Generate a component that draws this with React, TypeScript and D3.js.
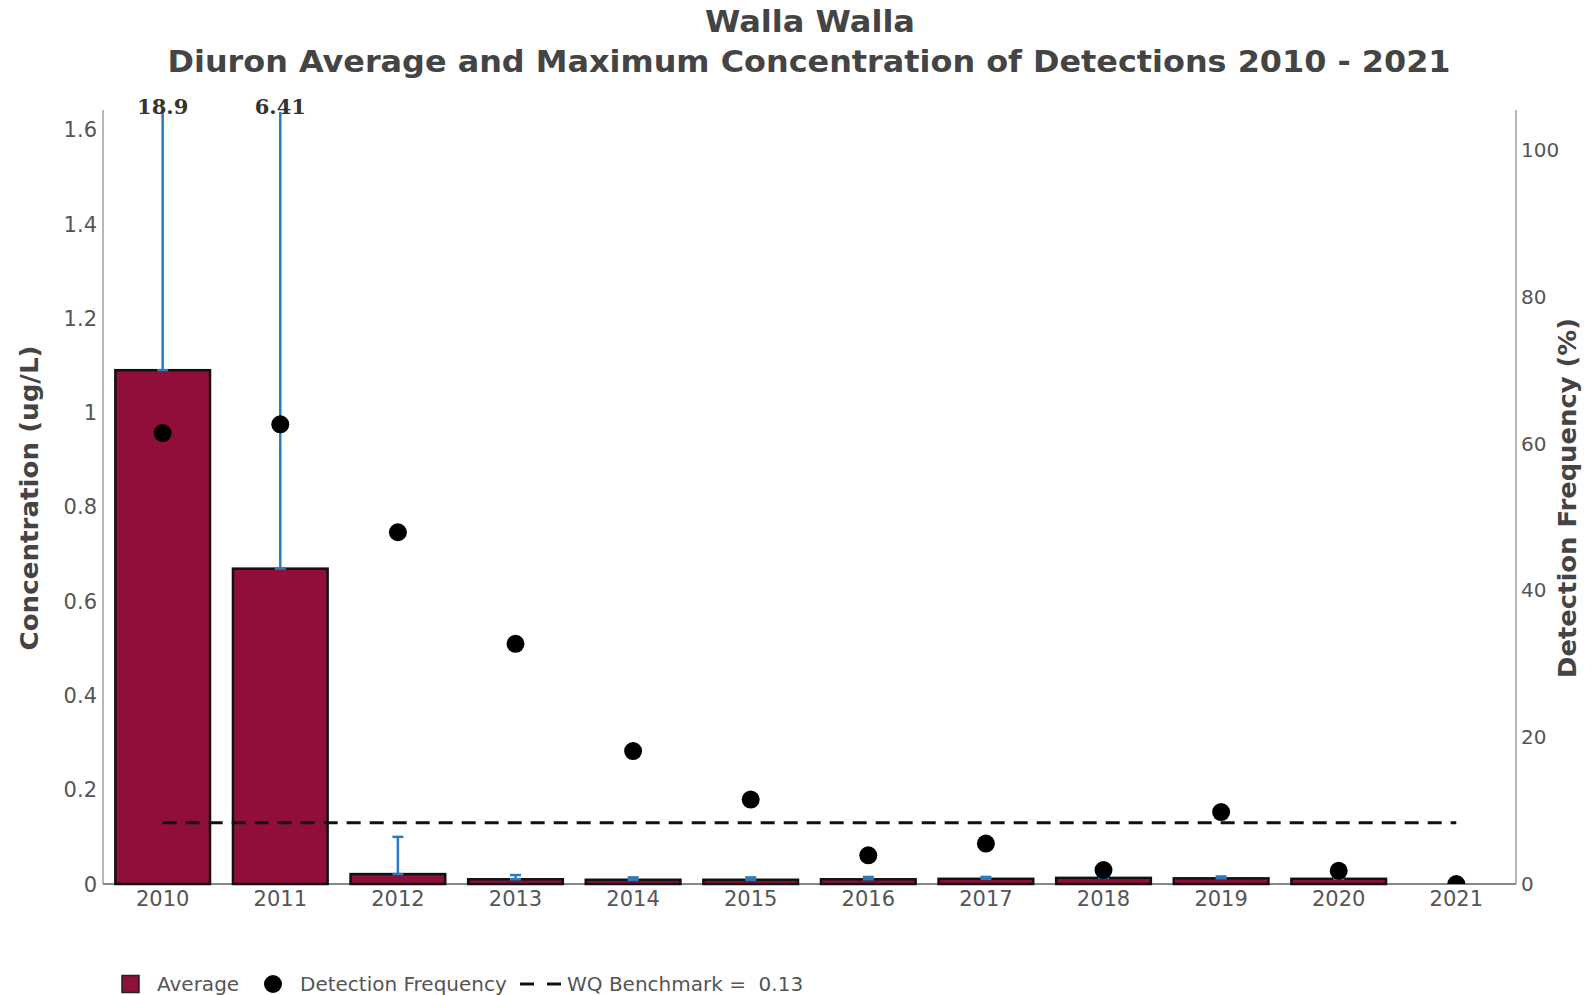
import React, { useEffect, useRef } from 'react';
import * as d3 from 'd3';

const years = ['2010', '2011', '2012', '2013', '2014', '2015', '2016', '2017', '2018', '2019', '2020', '2021'];
const averageConc = [1.09, 0.669, 0.021, 0.01, 0.009, 0.009, 0.01, 0.011, 0.013, 0.012, 0.011, 0];
const maximumConc = [18.9, 6.41, 0.1, 0.019, 0.014, 0.014, 0.015, 0.015, 0.015, 0.016, 0.013, 0];
const detectionFreq = [61.4, 62.6, 47.9, 32.7, 18.1, 11.5, 3.9, 5.5, 1.9, 9.8, 1.8, 0];
const leftTicks = [0, 0.2, 0.4, 0.6, 0.8, 1, 1.2, 1.4, 1.6];
const rightTicks = [0, 20, 40, 60, 80, 100];
const benchmark = 0.13;

const App = () => {
  const svgRef = useRef(null);

  useEffect(() => {
    document.body.style.margin = '0';
    const svg = d3.select(svgRef.current);
    svg.selectAll('*').remove();

    const width = 1595;
    const height = 995;
    const left = 103;
    const right = 1516;
    const top = 110;
    const bottom = 884;
    const barColor = '#8f0e3a';
    const errColor = '#2b7bba';
    const textColor = '#444';
    const sans = '"DejaVu Sans", Verdana, sans-serif';

    svg.attr('width', width).attr('height', height);

    const x = d3.scaleBand().domain(years).range([left, right]).paddingInner(0.195).paddingOuter(0.105);
    const y = d3.scaleLinear().domain([0, 1.642]).range([bottom, top]);
    const y2 = d3.scaleLinear().domain([0, 105.4]).range([bottom, top]);
    const cx = d => x(d) + x.bandwidth() / 2;

    const defs = svg.append('defs');
    defs.append('clipPath').attr('id', 'errClip')
      .append('rect').attr('x', left).attr('y', 112).attr('width', right - left).attr('height', bottom - 112);
    defs.append('clipPath').attr('id', 'dotClip')
      .append('rect').attr('x', left).attr('y', top).attr('width', right - left).attr('height', bottom - top);

    // title
    svg.append('text')
      .attr('x', 810).attr('y', 32)
      .attr('text-anchor', 'middle')
      .attr('textLength', 210).attr('lengthAdjust', 'spacingAndGlyphs')
      .style('font-family', sans).style('font-weight', 'bold').style('font-size', '30px')
      .style('fill', textColor)
      .text('Walla Walla');
    svg.append('text')
      .attr('x', 809).attr('y', 72)
      .attr('text-anchor', 'middle')
      .attr('textLength', 1283).attr('lengthAdjust', 'spacingAndGlyphs')
      .style('font-family', sans).style('font-weight', 'bold').style('font-size', '30px')
      .style('fill', textColor)
      .text('Diuron Average and Maximum Concentration of Detections 2010 - 2021');

    // axis lines
    svg.append('line').attr('x1', left).attr('x2', left).attr('y1', top).attr('y2', bottom)
      .attr('stroke', '#888').attr('stroke-width', 1.2);
    svg.append('line').attr('x1', right).attr('x2', right).attr('y1', top).attr('y2', bottom)
      .attr('stroke', '#888').attr('stroke-width', 1.2);
    svg.append('line').attr('x1', left).attr('x2', right).attr('y1', bottom).attr('y2', bottom)
      .attr('stroke', '#888').attr('stroke-width', 2);

    svg.append('g').selectAll('text').data(leftTicks).enter().append('text')
      .attr('x', 97).attr('y', d => y(d)).attr('dy', '0.36em')
      .attr('text-anchor', 'end')
      .style('font-family', sans).style('font-size', '21px').style('fill', '#555')
      .text(d => d3.format('~g')(d));

    svg.append('g').selectAll('text').data(rightTicks).enter().append('text')
      .attr('x', 1521).attr('y', d => y2(d)).attr('dy', '0.36em')
      .attr('text-anchor', 'start')
      .style('font-family', sans).style('font-size', '20px').style('fill', '#555')
      .text(d => d);

    svg.append('g').selectAll('text').data(years).enter().append('text')
      .attr('x', d => cx(d)).attr('y', 906)
      .attr('text-anchor', 'middle')
      .style('font-family', sans).style('font-size', '21px').style('fill', '#555')
      .text(d => d);

    // axis titles
    svg.append('text')
      .attr('transform', 'translate(38, 498) rotate(-90)')
      .attr('text-anchor', 'middle')
      .attr('textLength', 305).attr('lengthAdjust', 'spacingAndGlyphs')
      .style('font-family', sans).style('font-weight', 'bold').style('font-size', '24px')
      .style('fill', textColor)
      .text('Concentration (ug/L)');
    svg.append('text')
      .attr('transform', 'translate(1576, 498) rotate(-90)')
      .attr('text-anchor', 'middle')
      .attr('textLength', 360).attr('lengthAdjust', 'spacingAndGlyphs')
      .style('font-family', sans).style('font-weight', 'bold').style('font-size', '24px')
      .style('fill', textColor)
      .text('Detection Frequency (%)');

    const rows = years.map((yr, i) => ({ yr, avg: averageConc[i], max: maximumConc[i], freq: detectionFreq[i] }));

    // bars (average)
    svg.append('g').selectAll('rect').data(rows).enter().append('rect')
      .attr('x', d => x(d.yr))
      .attr('width', x.bandwidth())
      .attr('y', d => y(d.avg))
      .attr('height', d => bottom - y(d.avg))
      .attr('fill', barColor)
      .attr('stroke', '#111')
      .attr('stroke-width', 2.5);

    // error bars (avg -> max)
    const err = svg.append('g').attr('clip-path', 'url(#errClip)');
    const capW = 5.5;
    rows.filter(d => d.max > d.avg).forEach(d => {
      const px = cx(d.yr);
      const y0 = y(d.avg);
      const y1 = y(Math.min(d.max, 2));
      err.append('line').attr('x1', px).attr('x2', px).attr('y1', y0).attr('y2', y1)
        .attr('stroke', errColor).attr('stroke-width', 2.5);
      err.append('line').attr('x1', px - capW).attr('x2', px + capW).attr('y1', y0).attr('y2', y0)
        .attr('stroke', errColor).attr('stroke-width', 2.5);
      err.append('line').attr('x1', px - capW).attr('x2', px + capW).attr('y1', y1).attr('y2', y1)
        .attr('stroke', errColor).attr('stroke-width', 2.5);
    });

    // labels for maxima beyond the axis
    svg.append('g').selectAll('text').data(rows.filter(d => d.max > y.domain()[1])).enter().append('text')
      .attr('x', d => cx(d.yr)).attr('y', 114)
      .attr('text-anchor', 'middle')
      .style('font-family', '"DejaVu Serif", serif').style('font-weight', 'bold').style('font-size', '21px')
      .style('fill', '#333')
      .text(d => d.max);

    // benchmark line
    const line = d3.line().x(d => d[0]).y(d => d[1]);
    svg.append('path')
      .attr('d', line([
        [cx(years[0]), y(benchmark)],
        [cx(years[years.length - 1]), y(benchmark)]
      ]))
      .attr('stroke', '#111').attr('stroke-width', 3).attr('stroke-dasharray', '14,9').attr('fill', 'none');

    // detection frequency
    svg.append('g').attr('clip-path', 'url(#dotClip)')
      .selectAll('circle').data(rows).enter().append('circle')
      .attr('cx', d => cx(d.yr))
      .attr('cy', d => y2(d.freq))
      .attr('r', 9)
      .attr('fill', '#000');

    // legend
    const lg = svg.append('g');
    const ly = 984;
    lg.append('rect').attr('x', 122).attr('y', ly - 8.5).attr('width', 17).attr('height', 17)
      .attr('fill', barColor).attr('stroke', '#222').attr('stroke-width', 1.5);
    lg.append('text').attr('x', 157).attr('y', 991)
      .style('font-family', sans).style('font-size', '20px').style('fill', '#555').text('Average');
    lg.append('circle').attr('cx', 273).attr('cy', ly).attr('r', 9).attr('fill', '#000');
    lg.append('text').attr('x', 300).attr('y', 991)
      .style('font-family', sans).style('font-size', '20px').style('fill', '#555').text('Detection Frequency');
    lg.append('line').attr('x1', 520).attr('x2', 561).attr('y1', ly).attr('y2', ly)
      .attr('stroke', '#111').attr('stroke-width', 3).attr('stroke-dasharray', '14,13');
    lg.append('text').attr('x', 567).attr('y', 991)
      .style('font-family', sans).style('font-size', '20px').style('fill', '#555')
      .style('white-space', 'pre')
      .text(`WQ Benchmark =  ${benchmark}`);
  }, []);

  return (
    <div>
      <svg ref={svgRef} style={{ display: 'block' }}></svg>
    </div>
  );
};

export default App;
